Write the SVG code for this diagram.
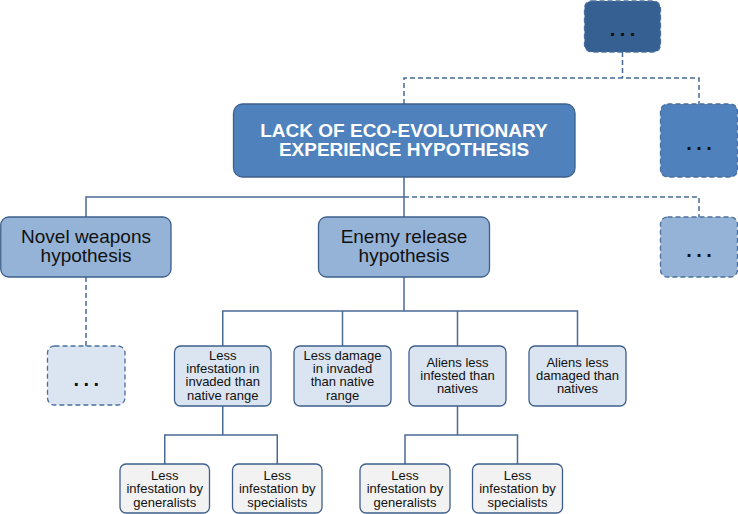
<svg xmlns="http://www.w3.org/2000/svg" width="738" height="514" viewBox="0 0 738 514">
<defs>
<style>
.box{stroke:#3d5f8c;stroke-width:1.3}
.dash{stroke:#4a6f9e;stroke-width:1.3;stroke-dasharray:5 3}
.c0{fill:#376092}
.c1{fill:#4f81bd}
.c2{fill:#95b3d7}
.c3{fill:#dbe5f1}
.c4{fill:#f2f2f2}
.ln{fill:none;stroke:#4a6a96;stroke-width:1.5}
.dl{fill:none;stroke:#4a6a96;stroke-width:1.5;stroke-dasharray:5 3}
text{font-family:"Liberation Sans",Arial,sans-serif;text-anchor:middle;fill:#111}
.t1{font-size:19px;font-weight:bold;fill:#fff}
.t2{font-size:19px}
.t3{font-size:13px}
.dots{font-size:20px;font-weight:bold;letter-spacing:4.5px;fill:#111}
</style>
</defs>
<g id="connectors">
<path class="dl" d="M404,104 V78 H699 V104 M622.5,52 V78"/>
<path class="dl" d="M404,197 H699 V217"/>
<path class="ln" d="M404,177 V217 M86,217 V197 H404"/>
<path class="dl" d="M86,277 V346"/>
<path class="ln" d="M404,277 V311 M222.75,346 V311 H577.5 V346 M342.5,311 V346 M457.5,311 V346"/>
<path class="ln" d="M222.75,406 V435 M164.75,464 V435 H277.25 V464"/>
<path class="ln" d="M457.5,406 V435 M405,464 V435 H517.5 V464"/>
</g>
<g id="top-more">
<rect class="c0 dash" x="584.5" y="1" width="76" height="51" rx="7"/>
<text class="dots" x="624.75" y="36">...</text>
</g>
<g id="main">
<rect class="c1 box" x="233.5" y="104" width="341.5" height="73" rx="9"/>
<text class="t1" x="404" y="136.7">LACK OF ECO-EVOLUTIONARY</text>
<text class="t1" x="404" y="156">EXPERIENCE HYPOTHESIS</text>
</g>
<g id="right-more-1">
<rect class="c1 dash" x="660.5" y="104" width="77" height="73" rx="7"/>
<text class="dots" x="701.25" y="150">...</text>
</g>
<g id="novel">
<rect class="c2 box" x="0.75" y="217" width="170.25" height="60" rx="8"/>
<text class="t2" x="86" y="242.7">Novel weapons</text>
<text class="t2" x="86" y="262">hypothesis</text>
</g>
<g id="enemy">
<rect class="c2 box" x="318.5" y="217" width="171" height="60" rx="8"/>
<text class="t2" x="404" y="242.7">Enemy release</text>
<text class="t2" x="404" y="262">hypothesis</text>
</g>
<g id="right-more-2">
<rect class="c2 dash" x="660.5" y="217" width="77" height="60" rx="7"/>
<text class="dots" x="701.25" y="257">...</text>
</g>
<g id="left-more">
<rect class="c3 dash" x="47.5" y="346" width="77.5" height="59" rx="7"/>
<text class="dots" x="88.5" y="386">...</text>
</g>
<g id="n1">
<rect class="c3 box" x="174.5" y="346" width="96.5" height="60" rx="6"/>
<text class="t3" x="222.75" y="359.7">Less</text>
<text class="t3" x="222.75" y="373">infestation in</text>
<text class="t3" x="222.75" y="386.3">invaded than</text>
<text class="t3" x="222.75" y="399.5">native range</text>
</g>
<g id="n2">
<rect class="c3 box" x="294" y="346" width="97" height="60" rx="6"/>
<text class="t3" x="342.5" y="359.7">Less damage</text>
<text class="t3" x="342.5" y="373">in invaded</text>
<text class="t3" x="342.5" y="386.3">than native</text>
<text class="t3" x="342.5" y="399.5">range</text>
</g>
<g id="n3">
<rect class="c3 box" x="409" y="346" width="97" height="60" rx="6"/>
<text class="t3" x="457.5" y="366.5">Aliens less</text>
<text class="t3" x="457.5" y="379.8">infested than</text>
<text class="t3" x="457.5" y="393.1">natives</text>
</g>
<g id="n4">
<rect class="c3 box" x="529" y="346" width="97" height="60" rx="6"/>
<text class="t3" x="577.5" y="366.5">Aliens less</text>
<text class="t3" x="577.5" y="379.8">damaged than</text>
<text class="t3" x="577.5" y="393.1">natives</text>
</g>
<g id="b1">
<rect class="c4 box" x="120" y="464" width="89.5" height="49" rx="6"/>
<text class="t3" x="164.75" y="480">Less</text>
<text class="t3" x="164.75" y="493.3">infestation by</text>
<text class="t3" x="164.75" y="506.5">generalists</text>
</g>
<g id="b2">
<rect class="c4 box" x="232.5" y="464" width="89.5" height="49" rx="6"/>
<text class="t3" x="277.25" y="480">Less</text>
<text class="t3" x="277.25" y="493.3">infestation by</text>
<text class="t3" x="277.25" y="506.5">specialists</text>
</g>
<g id="b3">
<rect class="c4 box" x="360" y="464" width="90" height="49" rx="6"/>
<text class="t3" x="405" y="480">Less</text>
<text class="t3" x="405" y="493.3">infestation by</text>
<text class="t3" x="405" y="506.5">generalists</text>
</g>
<g id="b4">
<rect class="c4 box" x="472.5" y="464" width="90" height="49" rx="6"/>
<text class="t3" x="517.5" y="480">Less</text>
<text class="t3" x="517.5" y="493.3">infestation by</text>
<text class="t3" x="517.5" y="506.5">specialists</text>
</g>
</svg>
